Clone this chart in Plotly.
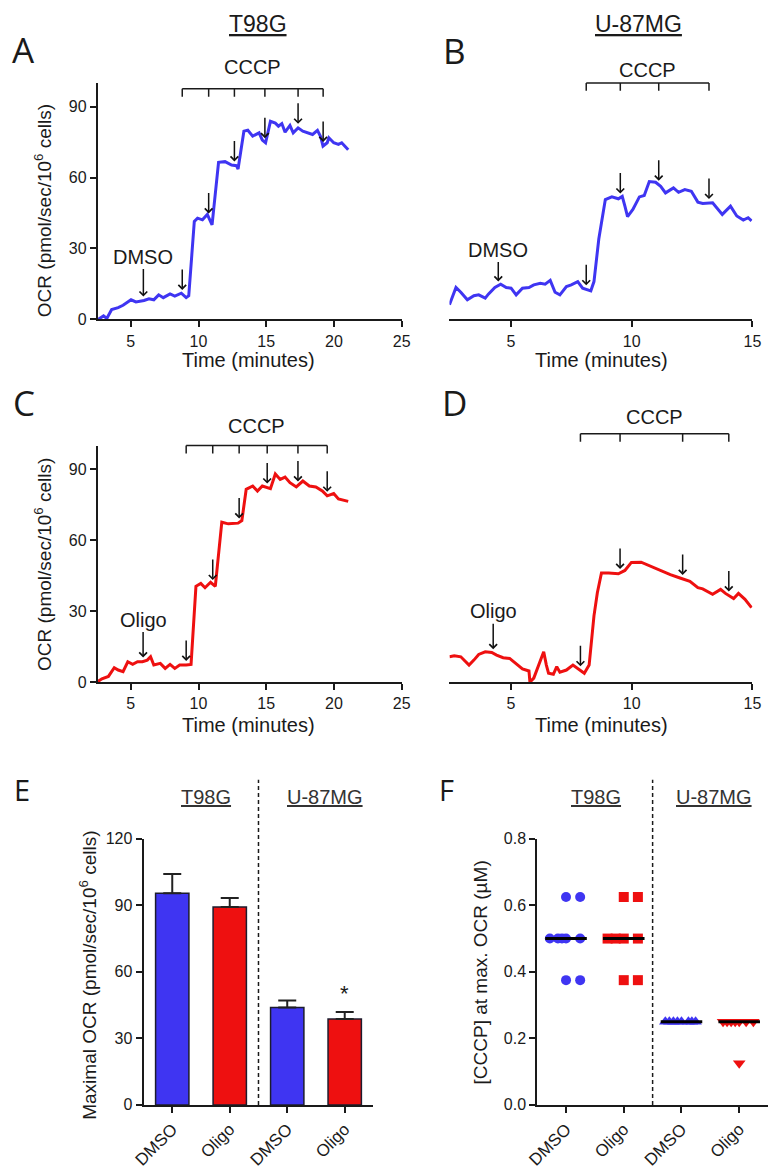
import numpy as np
import plotly.graph_objects as go

W, H = 780, 1174
FONT = "Liberation Sans, Arial, sans-serif"
INK = "#1a1a1a"
BLUE = "#3f35f2"
RED = "#ee1010"

# ---------------- traces (time in minutes, OCR in pmol/sec/10^6 cells)
t_a = [2.58, 2.99, 3.23, 3.59, 4.07, 4.43, 5.02, 5.38, 5.98, 6.34, 6.7, 7.06, 7.4, 7.9, 8.25, 8.73,
       9.09, 9.28, 9.69, 9.93, 10.29, 10.65, 11.0, 11.48, 11.96, 12.44, 12.8, 12.92, 13.35, 13.64,
       14.0, 14.47, 14.71, 14.95, 15.31, 15.67, 15.9, 16.15, 16.39, 16.75, 16.99, 17.35, 17.7,
       18.06, 18.42, 18.78, 19.02, 19.19, 19.5, 19.62, 19.98, 20.33, 20.57, 21.05]
ocr_a = [0, 1.5, 0.4, 4.2, 5.0, 6.0, 8.3, 7.4, 8.0, 8.75, 8.3, 10.4, 9.2, 10.8, 9.9, 11.1,
         9.2, 10.0, 41.4, 42.8, 42.1, 44.4, 40.0, 66.4, 66.7, 65.3, 65.0, 63.6, 79.6, 80.0,
         77.5, 78.9, 75.8, 74.7, 83.75, 83.0, 81.7, 82.8, 79.2, 82.0, 78.9, 81.0, 79.6,
         78.9, 78.2, 79.9, 77.2, 73.3, 74.7, 76.8, 74.7, 74.0, 74.7, 71.7]

t_b = [2.46, 2.73, 2.93, 3.2, 3.47, 3.67, 3.94, 4.07, 4.34, 4.58, 4.81, 5.01, 5.22, 5.48, 5.75,
       5.95, 6.22, 6.42, 6.63, 6.83, 7.03, 7.3, 7.5, 7.77, 7.97, 8.31, 8.44, 8.64, 8.91, 9.18,
       9.45, 9.61, 9.72, 9.83, 10.05, 10.32, 10.52, 10.73, 10.99, 11.2, 11.4, 11.73, 11.94,
       12.2, 12.47, 12.74, 12.94, 13.35, 13.75, 14.09, 14.35, 14.62, 14.82, 14.96]
ocr_b = [6.25, 13.5, 11.5, 8.3, 10.0, 10.4, 9.0, 10.7, 13.5, 14.9, 13.5, 13.2, 10.4, 13.2, 13.5,
         14.6, 15.3, 14.9, 16.5, 11.5, 10.4, 13.9, 14.6, 16.0, 13.2, 12.1, 16.0, 34.0, 50.7, 51.8,
         51.0, 52.0, 47.9, 43.5, 46.5, 51.8, 52.4, 58.3, 58.0, 56.25, 53.5, 55.6, 53.75,
         54.9, 54.2, 49.6, 49.0, 49.3, 44.4, 47.9, 43.75, 42.0, 43.0, 41.7]

t_c = [2.51, 2.87, 3.35, 3.78, 4.07, 4.43, 4.78, 5.14, 5.5, 5.86, 6.22, 6.46, 6.7, 7.18, 7.54,
       7.9, 8.25, 8.61, 9.09, 9.45, 9.81, 10.17, 10.48, 10.89, 11.24, 11.72, 12.2, 12.92, 13.2,
       13.52, 14.0, 14.35, 14.71, 15.31, 15.67, 16.03, 16.39, 16.75, 17.22, 17.7, 18.18, 18.66,
       19.14, 19.5, 19.98, 20.33, 21.05]
ocr_c = [0, 1.4, 2.4, 6.1, 5.1, 4.4, 8.6, 7.5, 8.6, 8.6, 9.3, 10.7, 7.2, 7.9, 5.8,
         7.5, 5.8, 7.2, 7.2, 7.5, 40.5, 41.7, 39.9, 42.2, 40.5, 67.6, 66.9, 67.2, 68.3,
         81.5, 82.9, 80.8, 82.9, 81.8, 88.0, 85.7, 86.7, 84.3, 82.5, 85.0, 82.9, 82.5,
         80.8, 78.75, 79.7, 77.4, 76.4]

t_d = [2.46, 2.66, 2.93, 3.27, 3.47, 3.67, 3.94, 4.21, 4.41, 4.68, 4.95, 5.22, 5.48, 5.75, 5.79,
       5.95, 6.22, 6.36, 6.47, 6.56, 6.76, 6.9, 7.03, 7.3, 7.57, 7.77, 8.04, 8.24, 8.44, 8.58,
       8.75, 9.05, 9.45, 9.72, 9.99, 10.39, 10.79, 11.2, 11.6, 12.0, 12.41, 12.74, 12.94,
       13.35, 13.68, 13.88, 14.22, 14.42, 14.69, 14.96]
ocr_d = [10.7, 11.1, 10.7, 7.2, 9.3, 11.7, 12.8, 12.5, 11.4, 10.3, 10.0, 7.9, 5.6, 4.7, 0.0,
         1.7, 8.6, 12.8, 7.2, 3.75, 3.3, 6.5, 4.2, 5.1, 7.2, 5.8, 3.75, 7.2, 28.0, 37.8,
         46.1, 46.1, 45.8, 47.2, 50.6, 50.7, 48.9, 47.2, 45.4, 44.0, 42.6, 39.9, 39.4,
         37.1, 39.2, 37.5, 35.3, 37.5, 35.0, 31.5]

# injection times (minutes)
pre_a, pre_b, pre_c, pre_d = 5.93, 4.48, 5.91, 4.27
cccp_a = [8.8, 10.75, 12.65, 14.9, 17.35, 19.2]
cccp_b = [8.12, 9.53, 11.12, 13.2]
cccp_c = [9.09, 11.05, 13.0, 15.07, 17.34, 19.5]
cccp_d = [7.88, 9.52, 12.11, 14.02]

# ---------------- panel E: maximal OCR
e_labels = ["DMSO", "Oligo", "DMSO", "Oligo"]
e_mean = [95.4, 89.2, 43.9, 38.7]
e_sem = [8.7, 4.1, 3.2, 3.2]

# ---------------- panel F: [CCCP] at max OCR (uM)
f_t98g_dmso = [0.625, 0.625, 0.5, 0.5, 0.5, 0.5, 0.5, 0.375, 0.375]
f_t98g_oligo = [0.625, 0.625, 0.5, 0.5, 0.5, 0.5, 0.375, 0.375]
f_u87_dmso = [0.25, 0.25, 0.25, 0.25, 0.25, 0.25, 0.25, 0.25]
f_u87_oligo = [0.25, 0.25, 0.25, 0.25, 0.25, 0.25, 0.25, 0.125]


def px(x):
    return x / W


def py(y):
    return 1 - y / H


def dom_x(a, b):
    return [px(a), px(b)]


def dom_y(top, bottom):
    return [py(bottom), py(top)]


axis = dict(showline=True, linecolor=INK, linewidth=1.8, ticks="outside", ticklen=6,
            tickwidth=1.8, tickcolor=INK, showgrid=False, zeroline=False,
            tickfont=dict(size=16, color=INK, family=FONT), fixedrange=True)

fig = go.Figure()

# time course panels
panels = [
    ("x", "y", t_a, ocr_a, BLUE),
    ("x2", "y2", t_b, ocr_b, BLUE),
    ("x3", "y3", t_c, ocr_c, RED),
    ("x4", "y4", t_d, ocr_d, RED),
]
for xa, ya, t, v, col in panels:
    fig.add_trace(go.Scatter(x=t, y=v, mode="lines", line=dict(color=col, width=3),
                             xaxis=xa, yaxis=ya, showlegend=False))

# panel E bars
fig.add_trace(go.Bar(x=[0, 1, 2, 3], y=e_mean, width=0.58,
                     marker=dict(color=[BLUE, RED, BLUE, RED], line=dict(color="#1c1c2e", width=1.5)),
                     error_y=dict(type="data", array=e_sem, arrayminus=[0, 0, 0, 0], symmetric=False,
                                  color="#222", thickness=2, width=9),
                     xaxis="x5", yaxis="y5", showlegend=False))

# panel F scatter
SPREAD = [0, 0.245, -0.14, -0.28, -0.07, 0.12, -0.21, 0.18]


def swarm(vals, center):
    xs, seen = [], {}
    for v in vals:
        k = seen.get(v, 0)
        seen[v] = k + 1
        xs.append(center + SPREAD[k % len(SPREAD)])
    return xs


f_groups = [(f_t98g_dmso, 0, "circle", BLUE, 10),
            (f_t98g_oligo, 1, "square", RED, 10),
            (f_u87_dmso, 2, "triangle-up", BLUE, 11),
            (f_u87_oligo, 3, "triangle-down", RED, 11)]
for vals, c, sym, col, sz in f_groups:
    fig.add_trace(go.Scatter(x=swarm(vals, c), y=vals, mode="markers",
                             marker=dict(symbol=sym, color=col, size=sz, line=dict(width=0)),
                             xaxis="x6", yaxis="y6", showlegend=False, cliponaxis=False))
for vals, c, sym, col, sz in f_groups:
    m = float(np.median(vals))
    fig.add_trace(go.Scatter(x=[c - 0.36, c + 0.36], y=[m, m], mode="lines",
                             line=dict(color="black", width=3),
                             xaxis="x6", yaxis="y6", showlegend=False))

layout = dict(
    width=W, height=H, margin=dict(l=0, r=0, t=0, b=0),
    paper_bgcolor="white", plot_bgcolor="white", font=dict(family=FONT, color=INK),
    xaxis=dict(axis, domain=dom_x(89, 401), range=[2.56, 25], tickvals=[5, 10, 15, 20, 25], anchor="y"),
    yaxis=dict(axis, domain=dom_y(76, 316), range=[0, 100], tickvals=[0, 30, 60, 90], anchor="x"),
    xaxis2=dict(axis, domain=dom_x(450, 761), range=[2.46, 15], tickvals=[5, 10, 15], anchor="y2"),
    yaxis2=dict(domain=dom_y(76, 316), range=[0, 100], visible=False, anchor="x2", fixedrange=True),
    xaxis3=dict(axis, domain=dom_x(89, 401), range=[2.56, 25], tickvals=[5, 10, 15, 20, 25], anchor="y3"),
    yaxis3=dict(axis, domain=dom_y(444, 684), range=[0, 100], tickvals=[0, 30, 60, 90], anchor="x3"),
    xaxis4=dict(axis, domain=dom_x(450, 761), range=[2.46, 15], tickvals=[5, 10, 15], anchor="y4"),
    yaxis4=dict(domain=dom_y(444, 684), range=[0, 100], visible=False, anchor="x4", fixedrange=True),
    xaxis5=dict(axis, domain=dom_x(136, 372), range=[-0.5, 3.5], tickvals=[0, 1, 2, 3],
                ticktext=e_labels, tickangle=-45, tickfont=dict(size=17, color=INK, family=FONT), anchor="y5"),
    yaxis5=dict(axis, domain=dom_y(843, 1113), range=[0, 120], tickvals=[0, 30, 60, 90, 120], anchor="x5"),
    xaxis6=dict(axis, domain=dom_x(540, 777), range=[-0.5, 3.5], tickvals=[0, 1, 2, 3],
                ticktext=e_labels, tickangle=-45, tickfont=dict(size=17, color=INK, family=FONT), anchor="y6"),
    yaxis6=dict(axis, domain=dom_y(843, 1113), range=[0, 0.8], tickvals=[0, 0.2, 0.4, 0.6, 0.8],
                tickformat=".1f", anchor="x6"),
)
fig.update_layout(**layout)

ann = []
shapes = []


def text(x, y, s, size, xref="paper", yref="paper", angle=0, color=INK, family=FONT):
    ann.append(dict(x=x, y=y, xref=xref, yref=yref, text=s, showarrow=False, textangle=angle,
                    font=dict(size=size, color=color, family=family), xanchor="center", yanchor="middle"))


# panel letters
for s, x, y, size in [("A", 13, 42, 35), ("B", 455, 43, 35), ("C", 13, 400, 35), ("D", 455, 400, 35),
                      ("E", 11, 793, 29), ("F", 447, 793, 29)]:
    text(px(x), py(y), s, size, family="Open Sans, sans-serif")

# cell line headers
text(px(254), py(16), "<u>T98G</u>", 23)
text(px(644), py(16), "<u>U-87MG</u>", 23)
for s, x in [("<u>T98G</u>", 200), ("<u>U-87MG</u>", 322), ("<u>T98G</u>", 600), ("<u>U-87MG</u>", 721)]:
    text(px(x), py(801), s, 20, color="#333")

# axis titles
ocr_title = "OCR (pmol/sec/10<sup>6</sup> cells)"
text(px(33), py(206), ocr_title, 19, angle=-90)
text(px(33), py(565), ocr_title, 19, angle=-90)
text(px(79), py(981), "Maximal OCR (pmol/sec/10<sup>6</sup> cells)", 19, angle=-90)
text(px(482), py(979), "[CCCP] at max. OCR (\u00b5M)", 19, angle=-90)
for x, y in [(244, 357), (606, 357), (244, 728), (606, 728)]:
    text(px(x), py(y), "Time (minutes)", 20)

# CCCP brackets, arrows and pretreatment labels
cccp_panels = [
    ("x", "y", t_a, ocr_a, cccp_a, pre_a, "DMSO", 82, 60, -44),
    ("x2", "y2", t_b, ocr_b, cccp_b, pre_b, "DMSO", 76, 63, -36),
    ("x3", "y3", t_c, ocr_c, cccp_c, pre_c, "Oligo", 444, 424, -42),
    ("x4", "y4", t_d, ocr_d, cccp_d, pre_d, "Oligo", 432, 415, -42),
]
arrow = dict(showarrow=True, arrowhead=4, arrowsize=1, arrowwidth=1.5, arrowcolor="#111",
             standoff=4, ax=0)
for xa, ya, t, v, inj, pre, lab, ybr, ytxt, ay in cccp_panels:
    shapes.append(dict(type="line", xref=xa, yref="paper", x0=inj[0], x1=inj[-1],
                       y0=py(ybr), y1=py(ybr), line=dict(color=INK, width=1.5)))
    for ti in inj:
        shapes.append(dict(type="line", xref=xa, yref="paper", x0=ti, x1=ti,
                           y0=py(ybr), y1=py(ybr + 8), line=dict(color=INK, width=1.5)))
        ann.append(dict(arrow, x=ti, y=float(np.interp(ti, t, v)), xref=xa, yref=ya, text="", ay=-26))
    text((inj[0] + inj[-1]) / 2, py(ytxt), "CCCP", 20, xref=xa)
    ann.append(dict(arrow, x=pre, y=float(np.interp(pre, t, v)), xref=xa, yref=ya, text=lab, ay=ay,
                    font=dict(size=20, color=INK, family=FONT)))

# dashed separators in E and F
for xa, ya in [("x5", "y5"), ("x6", "y6")]:
    shapes.append(dict(type="line", xref=xa, yref="paper", x0=1.5, x1=1.5, y0=py(1113), y1=py(783),
                       line=dict(color=INK, width=1.5, dash="4px,3px")))

# significance mark
ann.append(dict(x=3, y=e_mean[3] + e_sem[3], xref="x5", yref="y5", text="*", showarrow=False,
                yshift=18, font=dict(size=22, color=INK, family=FONT)))

fig.update_layout(annotations=ann, shapes=shapes)
# drop the browser's default 8px body margin so the figure fills the window exactly
fig.write_html("out.html", config={"displayModeBar": False},
               post_script="document.body.style.margin='0px';document.body.style.overflow='hidden';")
